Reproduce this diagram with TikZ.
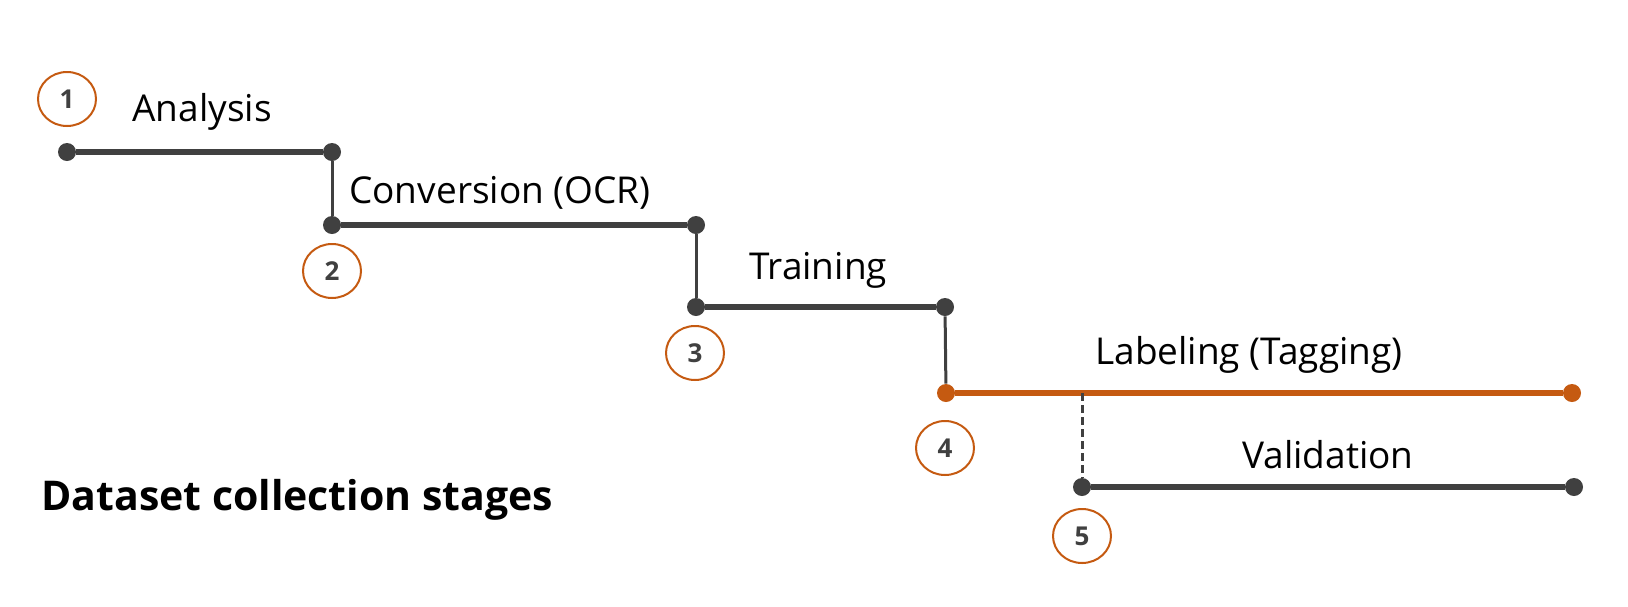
\documentclass[tikz,border=0pt]{standalone}
\usepackage{fontspec}
\usetikzlibrary{shapes.geometric}
\setmainfont{Open Sans}
\definecolor{stagegray}{HTML}{404040}
\definecolor{stageorange}{HTML}{C55A11}
\begin{document}
\begin{tikzpicture}[x=0.5pt,y=-0.5pt,line cap=butt]
  \tikzstyle{dot}=[circle,fill=stagegray,inner sep=0pt,minimum size=9pt]
  \tikzstyle{num}=[draw=stageorange,line width=1pt,ellipse,inner sep=0pt,minimum width=29pt,minimum height=27pt,
    text=stagegray,font=\fontsize{13}{13}\selectfont\bfseries]
  \tikzstyle{stage}=[font=\fontsize{18.5}{20}\selectfont]
  \tikzstyle{bar}=[stagegray,line width=2.8pt]
  \tikzstyle{riser}=[stagegray,line width=1.5pt]
  \useasboundingbox (0,0) rectangle (1628,606);

  % stage end points
  \node[dot] (s1a) at (67,152) {};
  \node[dot] (s1b) at (332,152) {};
  \node[dot] (s2a) at (332,225) {};
  \node[dot] (s2b) at (696,225) {};
  \node[dot] (s3a) at (696,307) {};
  \node[dot] (s3b) at (945,307) {};
  \node[dot,fill=stageorange] (s4a) at (946,393) {};
  \node[dot,fill=stageorange] (s4b) at (1572,393) {};
  \node[dot] (s5a) at (1082,487) {};
  \node[dot] (s5b) at (1574,487) {};
  \coordinate (fork) at (1082,393);

  \draw[bar] (s1a) -- (s1b);
  \draw[bar] (s2a) -- (s2b);
  \draw[bar] (s3a) -- (s3b);
  \draw[bar,stageorange] (s4a) -- (s4b);
  \draw[bar] (s5a) -- (s5b);
  \draw[riser] (s1b) -- (s2a);
  \draw[riser] (s2b) -- (s3a);
  \draw[riser] (s3b) -- (s4a);
  \draw[riser,dash pattern=on 4pt off 2pt] (fork) -- (s5a);

  % numbers
  \node[num] (n1) at (67,99) {1};
  \node[num] (n2) at (332,271) {2};
  \node[num] (n3) at (695,353) {3};
  \node[num] (n4) at (945,448) {4};
  \node[num] (n5) at (1082,536) {5};

  % stage names
  \node[stage] (t1) at (202,112) {Analysis};
  \node[stage] (t2) at (500,193) {Conversion (OCR)};
  \node[stage] (t3) at (818,270) {Training};
  \node[stage] (t4) at (1249,355) {Labeling (Tagging)};
  \node[stage] (t5) at (1328,455) {Validation};

  \node[anchor=west,font=\fontsize{20.5}{22}\selectfont\bfseries,inner sep=0pt] (title) at (41,500) {Dataset collection stages};
\end{tikzpicture}
\end{document}
